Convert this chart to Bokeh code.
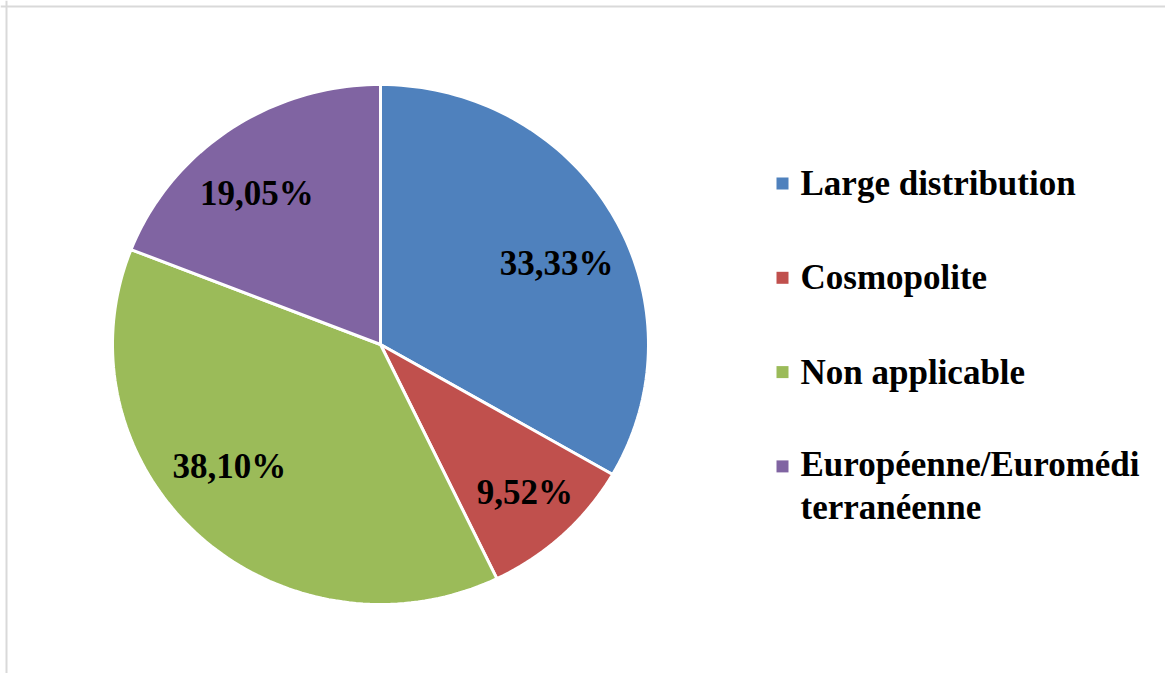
import math
from bokeh.plotting import figure
from bokeh.models import Range1d, Span
from bokeh.core.properties import value
from bokeh.embed import file_html
from bokeh.resources import INLINE

# ---- data ----
categories = ["Large distribution", "Cosmopolite", "Non applicable",
              "Européenne/Euromédi\nterranéenne"]
percents = [33.33, 9.52, 38.10, 19.05]
colors = ["#4F81BD", "#C0504D", "#9BBB59", "#8064A2"]

# ---- layout (pixel-like coordinates: x = image x, y = H - image y) ----
W, H = 1165, 673
TOP = H
cx, cy = 380, TOP - 344
rx, ry = 268, 260
label_frac = 0.72
label_nudge = [(9, -13), (13, -11), (-20, 15), (-15, -4)]
FONT = "Liberation Serif"
FS = "35px"

p = figure(width=W, height=H, output_backend="svg", toolbar_location=None,
           x_range=Range1d(0, W), y_range=Range1d(0, H),
           x_axis_type=None, y_axis_type=None, min_border=0)
p.grid.visible = False
p.outline_line_color = None
p.background_fill_color = "white"
p.border_fill_color = "white"

# light border of the chart area
p.add_layout(Span(location=6, dimension="height", line_color="#d9d9d9", line_width=2))
p.add_layout(Span(location=TOP - 6, dimension="width", line_color="#d9d9d9", line_width=2))

# ---- pie slices (clockwise from 12 o'clock) ----
total = sum(percents)
xs, ys, lx, ly, labels = [], [], [], [], []
start = 0.0
for i, v in enumerate(percents):
    a0 = start / total * 2 * math.pi
    a1 = (start + v) / total * 2 * math.pi
    n = max(4, int(240 * (a1 - a0) / (2 * math.pi)) + 2)
    px = [cx]
    py = [cy]
    for k in range(n + 1):
        t = a0 + (a1 - a0) * k / n
        px.append(cx + rx * math.sin(t))
        py.append(cy + ry * math.cos(t))
    xs.append(px)
    ys.append(py)
    m = (a0 + a1) / 2
    lx.append(cx + label_frac * rx * math.sin(m) + label_nudge[i][0])
    ly.append(cy + label_frac * ry * math.cos(m) + label_nudge[i][1])
    labels.append(f"{v:.2f}".replace(".", ",") + "%")
    start += v

p.patches(xs=xs, ys=ys, fill_color=colors, line_color="white", line_width=3)

p.text(x=lx, y=ly, text=labels, text_font=value(FONT), text_font_style="bold",
       text_font_size=FS, text_align="center", text_baseline="middle",
       text_color="black")

# ---- legend ----
leg_x_marker = 782
leg_x_text = 800
leg_y0 = TOP - 183
leg_step = 94.3
line_h = 1.12
mx, my, tx, ty = [], [], [], []
for i, c in enumerate(categories):
    yrow = leg_y0 - i * leg_step
    mx.append(leg_x_marker)
    my.append(yrow)
    nlines = c.count("\n") + 1
    tx.append(leg_x_text)
    ty.append(yrow - (nlines - 1) * 35 * line_h / 2)

p.scatter(x=mx, y=my, marker="square", size=12, fill_color=colors, line_color=None)
p.text(x=tx, y=ty, text=categories, text_font=value(FONT), text_font_style="bold",
       text_font_size=FS, text_align="left", text_baseline="middle",
       text_line_height=line_h, text_color="black")

open("out.html", "w").write(file_html(p, INLINE))
